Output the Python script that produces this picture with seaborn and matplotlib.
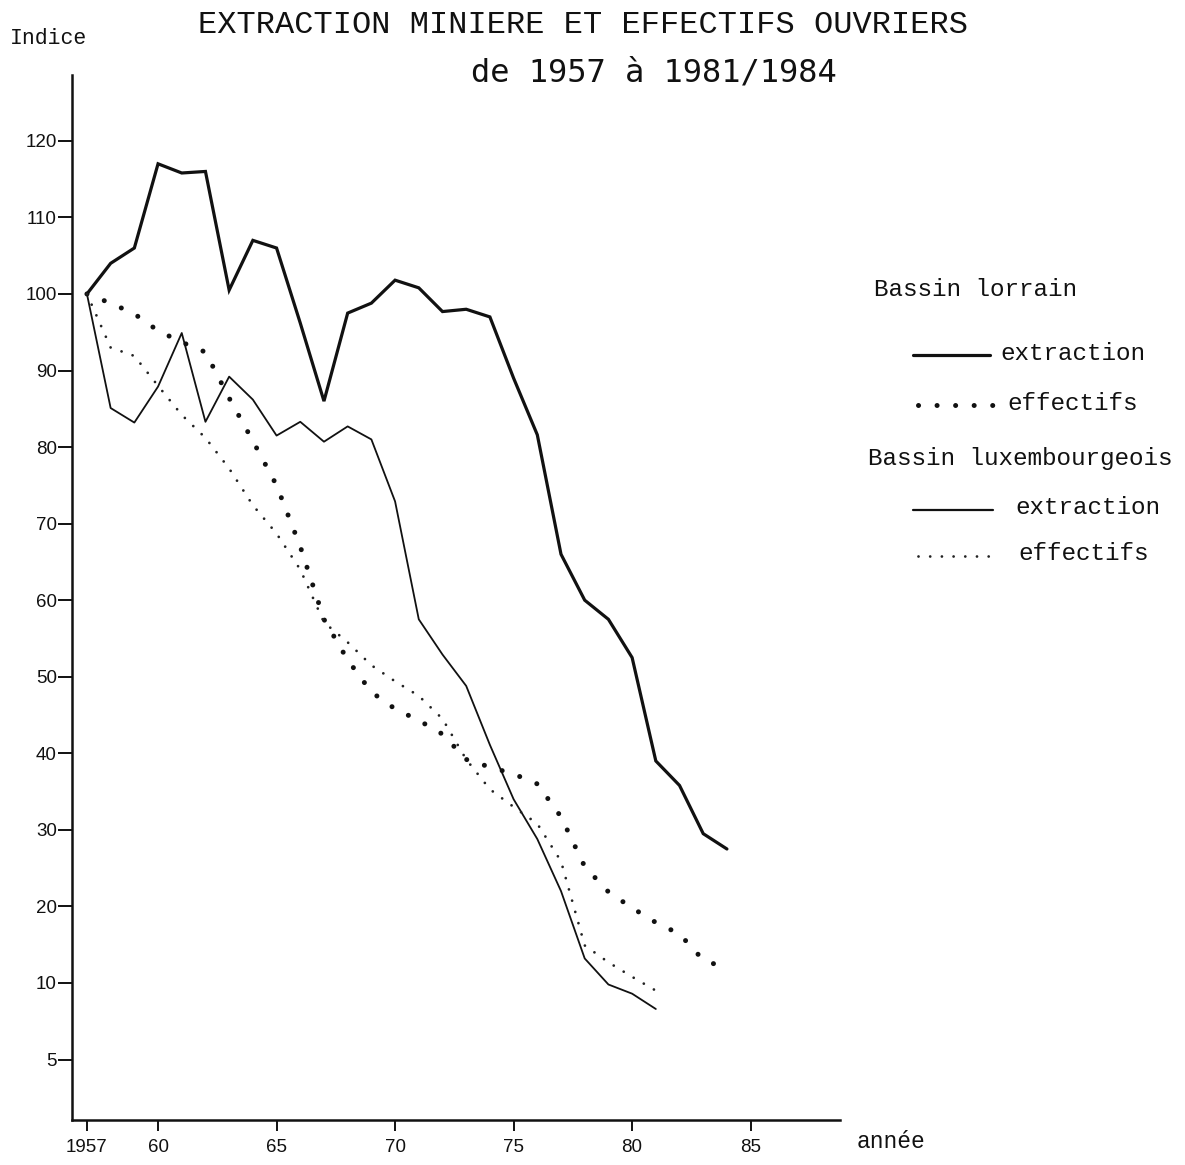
import numpy as np
import pandas as pd
import matplotlib
matplotlib.use("Agg")
import matplotlib.pyplot as plt
from matplotlib.lines import Line2D
import seaborn as sns

# indices (base 100 = 1957)
years_lor = list(range(1957, 1985))
years_lux = list(range(1957, 1982))

lor_extraction = [100, 104, 106, 117, 115.8, 116, 100.5, 107, 106, 96.2,
                  86, 97.5, 98.8, 101.8, 100.8, 97.7, 98, 97, 89, 81.6,
                  66, 60, 57.5, 52.5, 39, 35.8, 29.5, 27.5]
lor_effectifs = [100, 98.8, 97.4, 95.2, 93.7, 92.4, 86.4, 80.8, 75, 67,
                 57.5, 52.2, 48, 45.8, 44.3, 42.5, 39.2, 38.2, 37.3, 36,
                 31.7, 25.2, 21.9, 19.8, 17.9, 16.4, 13, 11.9]
lux_extraction = [100, 85.1, 83.2, 87.9, 94.9, 83.3, 89.2, 86.2, 81.5, 83.3,
                  80.7, 82.7, 81.0, 72.9, 57.5, 52.9, 48.8, 41.1, 34, 28.8,
                  22, 13.2, 9.9, 9.3, 8.3]
lux_effectifs = [100, 93, 91.9, 88, 84.2, 81.2, 77.2, 72.4, 68.7, 64,
                 57.1, 54.5, 51.5, 49.4, 47.5, 44.5, 39.2, 35.3, 33, 30.8,
                 25.9, 14.9, 12.7, 10.8, 9.5]

x_ticks = [1957, 1960, 1965, 1970, 1975, 1980, 1985]
x_ticklabels = ["1957", "60", "65", "70", "75", "80", "85"]
y_ticks = [5, 10, 20, 30, 40, 50, 60, 70, 80, 90, 100, 110, 120]
y_ticklabels = [str(v) for v in y_ticks]

df_lor = pd.DataFrame({"annee": years_lor, "extraction": lor_extraction,
                       "effectifs": lor_effectifs})
df_lux = pd.DataFrame({"annee": years_lux, "extraction": lux_extraction,
                       "effectifs": lux_effectifs})

sns.set_style("ticks")
plt.rcParams["font.family"] = ["Liberation Mono", "DejaVu Sans"]

ink = "#111111"
fig = plt.figure(figsize=(11.85, 11.65), dpi=100)
ax = fig.add_axes([72 / 1185, 1 - 1120 / 1165, 768 / 1185, 1045 / 1165])

# the scale below 10 is stretched (5 sits one step under 10)
def fwd(v):
    v = np.asarray(v, dtype=float)
    return np.where(v >= 10, v, 2 * v - 10)

def inv(y):
    y = np.asarray(y, dtype=float)
    return np.where(y >= 10, y, (y + 10) / 2)

ax.set_yscale("function", functions=(fwd, inv))

big_dots = (0, (0.01, 3.7))
small_dots = (0, (0.01, 4.2))

sns.lineplot(data=df_lor, x="annee", y="extraction", ax=ax, color=ink,
             lw=2.3, solid_joinstyle="miter")
sns.lineplot(data=df_lor, x="annee", y="effectifs", ax=ax, color=ink,
             lw=3.6, linestyle=big_dots, dash_capstyle="round")
sns.lineplot(data=df_lux, x="annee", y="extraction", ax=ax, color=ink,
             lw=1.3)
sns.lineplot(data=df_lux, x="annee", y="effectifs", ax=ax, color="#222222",
             lw=2.0, linestyle=small_dots, dash_capstyle="round")

ax.set_xlim(1956.37, 1988.77)
ax.set_ylim(1.05, 128.6)
ax.set_xticks(x_ticks)
ax.set_xticklabels(x_ticklabels)
ax.set_yticks(y_ticks)
ax.set_yticklabels(y_ticklabels)
ax.minorticks_off()
ax.set_xlabel("")
ax.set_ylabel("")

for lab in ax.get_xticklabels() + ax.get_yticklabels():
    lab.set_fontfamily("Liberation Sans")
    lab.set_fontsize(13.5)
    lab.set_color("black")

ax.tick_params(axis="y", direction="out", length=10, width=1.4, pad=1, colors=ink)
ax.tick_params(axis="x", direction="out", length=8, width=1.4, pad=6, colors=ink)
sns.despine(ax=ax)
for s in ["left", "bottom"]:
    ax.spines[s].set_linewidth(1.8)
    ax.spines[s].set_color(ink)

def fx(px):
    return px / 1185

def fy(py):
    return 1 - py / 1165

fig.text(fx(583), fy(25), "EXTRACTION MINIERE ET EFFECTIFS OUVRIERS",
         ha="center", va="center", fontsize=23, color=ink)
fig.text(fx(654), fy(73), "de 1957 à 1981/1984", ha="center", va="center",
         fontsize=23, color=ink, family=["DejaVu Sans Mono", "DejaVu Sans"])
fig.text(fx(10), fy(38), "Indice", ha="left", va="center", fontsize=15.5, color=ink)
fig.text(fx(857), fy(1142), "année", ha="left", va="center", fontsize=16.5, color=ink)

# legend
fig.text(fx(874), fy(289), "Bassin lorrain", ha="left", va="center",
         fontsize=17.5, color=ink)
fig.add_artist(Line2D([fx(913), fx(990)], [fy(355), fy(355)], color=ink, lw=2.3))
fig.text(fx(1000), fy(354), "extraction", ha="left", va="center",
         fontsize=17.5, color=ink)
fig.add_artist(Line2D([fx(918), fx(1000)], [fy(405), fy(405)], color=ink, lw=3.6,
                      linestyle=big_dots, dash_capstyle="round"))
fig.text(fx(1007), fy(403), "effectifs", ha="left", va="center",
         fontsize=17.5, color=ink)
fig.text(fx(868), fy(458), "Bassin luxembourgeois", ha="left", va="center",
         fontsize=17.5, color=ink)
fig.add_artist(Line2D([fx(913), fx(993)], [fy(510), fy(510)], color=ink, lw=1.6))
fig.text(fx(1015), fy(507), "extraction", ha="left", va="center",
         fontsize=17.5, color=ink)
fig.add_artist(Line2D([fx(918), fx(990)], [fy(556), fy(556)], color="#222222",
                      lw=2.0, linestyle=small_dots, dash_capstyle="round"))
fig.text(fx(1018), fy(553), "effectifs", ha="left", va="center",
         fontsize=17.5, color=ink)

fig.savefig("out.png", dpi=100, facecolor="white")
